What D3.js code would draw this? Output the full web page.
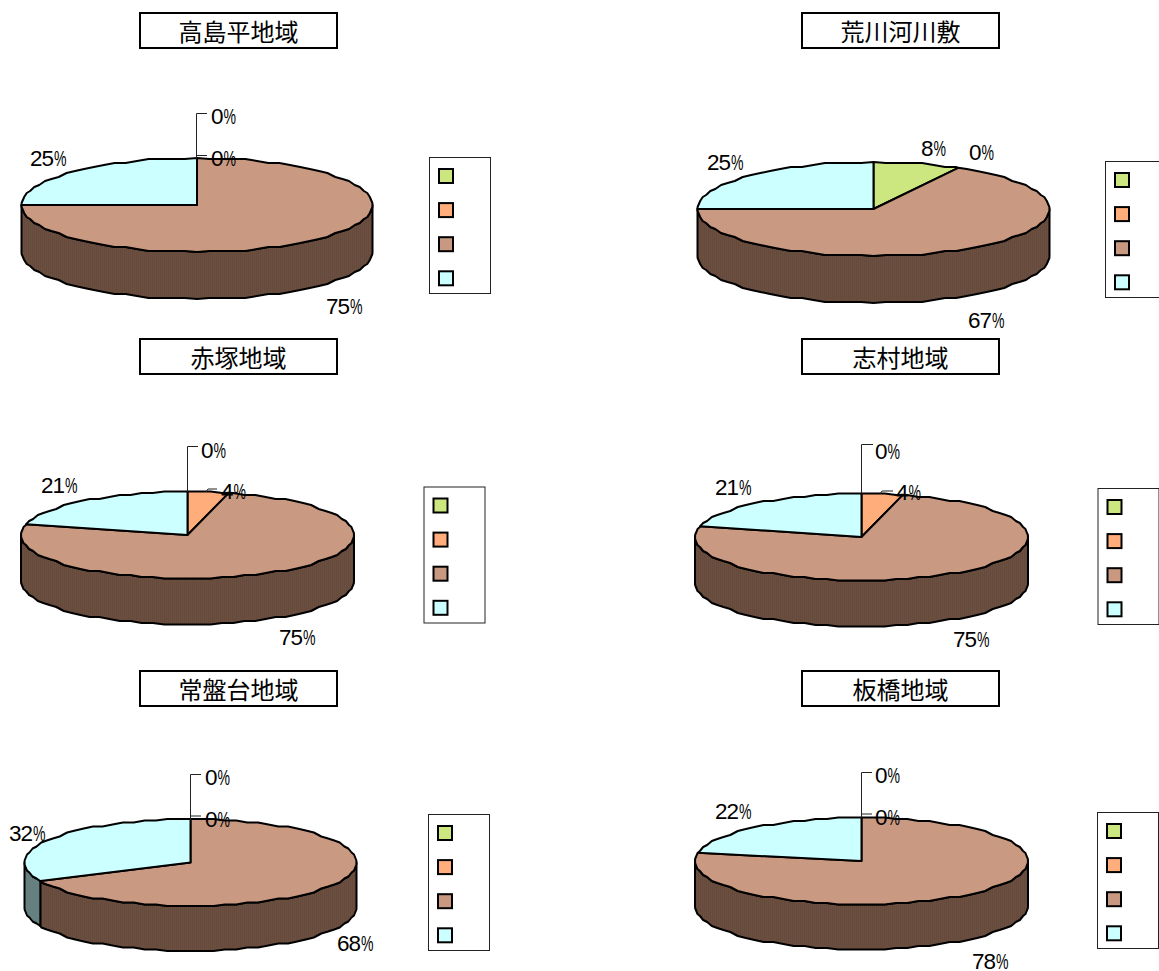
<!DOCTYPE html>
<html><head><meta charset="utf-8">
<script src="https://cdn.jsdelivr.net/npm/d3@7"></script>
<style>html,body{margin:0;padding:0;background:#fff;overflow:hidden}svg{display:block}
.t{font-family:"Noto Sans CJK JP";font-size:24px;fill:#000;text-anchor:middle}
.l{font-family:"Liberation Sans";font-size:22.5px;fill:#000}</style></head><body>
<div id="c"></div>
<script>
// ---- data ----
const regions = ["高島平地域","荒川河川敷","赤塚地域","志村地域","常盤台地域","板橋地域"];
const categoryA = [0,8,0,0,0,0];
const categoryB = [0,0,4,4,0,0];
const categoryC = [75,67,75,75,68,78];
const categoryD = [25,25,21,21,32,22];
// ---- colours ----
const topColors  = ["#cce680","#ffad7a","url(#topBrown)","#ccffff"];
const swatchColors = ["#cce680","#ffad7a","#c99880","#ccffff"];
const sideColors = ["#667340","#80563d","url(#sideBrown)","#668080"];
// ---- layout: one entry per panel ----
const pieLayout = [
 {cx:197,cy:205,rx:175.5,ry:47,depth:47},
 {cx:873.5,cy:209,rx:176,ry:47,depth:47},
 {cx:187.5,cy:535,rx:166.5,ry:43.5,depth:46},
 {cx:861.5,cy:537,rx:166.5,ry:43.5,depth:46},
 {cx:190.5,cy:862.5,rx:166,ry:43.5,depth:45},
 {cx:861.5,cy:861,rx:166.5,ry:43.5,depth:45}];
const titleLayout = [[139,12],[801,12],[139,338],[801,338],[139,670],[801,670]];
const legendLayout = [[429,157],[1105,161],[423.5,486.5],[1097.5,488],[428,814],[1097,812]];
const labelLayout = [
 [[211,116],[211,158],[326,306],[30,158]],
 [[921,148],[969,152],[968,320],[707,162]],
 [[201,450],[221,491],[279,637],[41,485]],
 [[875,451],[896,492],[953,639],[715,487]],
 [[205,777],[205,819],[337,943],[9,833]],
 [[875,775],[875,817],[972,961],[715,811]]];
const leaderLayout = [
 {x:196.5,top:113,bottom:159,end:207,hook:[197,155.5,207,155.5]},
 null,
 {x:187.5,top:446,bottom:492,end:198,hook:[206,492,208,489,217,489]},
 {x:861.5,top:444,bottom:494,end:873,hook:[880,494,882,491,893,491]},
 {x:190.5,top:774,bottom:820,end:201,hook:[191,816,201,816]},
 {x:861.5,top:772,bottom:818,end:872,hook:[862,814,872,814]}];

const svg = d3.select("#c").append("svg").attr("width",1159).attr("height",971);
const defs = svg.append("defs");
const pTop = defs.append("pattern").attr("id","topBrown").attr("width",2).attr("height",2).attr("patternUnits","userSpaceOnUse");
pTop.append("rect").attr("width",2).attr("height",2).attr("fill","#cc9b83");
pTop.append("rect").attr("width",1).attr("height",1).attr("fill","#c8977f");
pTop.append("rect").attr("x",1).attr("y",1).attr("width",1).attr("height",1).attr("fill","#c8977f");
const pSide = defs.append("pattern").attr("id","sideBrown").attr("width",2).attr("height",2).attr("patternUnits","userSpaceOnUse");
pSide.append("rect").attr("width",2).attr("height",2).attr("fill","#6b4f41");
pSide.append("rect").attr("width",1).attr("height",2).attr("fill","#664a3c");

const pie = d3.pie().sort(null).value(d=>d);
const pct = d3.format(".0f");
const STEP = Math.PI/45, SNAP = 2;

function arcPts(p,a0,a1){
  const as=[a0];
  for(let k=Math.ceil(a0/STEP+1e-6);k*STEP<a1-1e-6;k++) as.push(k*STEP);
  as.push(a1);
  const sx=d3.scaleLinear().domain([-1,1]).range([p.cx-p.rx,p.cx+p.rx]);
  const sy=d3.scaleLinear().domain([-1,1]).range([p.cy+p.ry,p.cy-p.ry]);
  return as.map((a,n)=>{
    const x=sx(Math.sin(a)), y=sy(Math.cos(a));
    if(n===0||n===as.length-1) return [x,y];
    const dy=Math.round((y-p.cy)/SNAP)*SNAP;
    return [x, p.cy+Math.max(-p.ry,Math.min(p.ry,dy))];
  });
}
const line=d3.line();

regions.forEach((name,i)=>{
  const p=pieLayout[i], g=svg.append("g");
  const vals=[categoryA[i],categoryB[i],categoryC[i],categoryD[i]];
  const arcs=pie(vals);
  arcs.forEach((a,j)=>{
    const lo=Math.max(a.startAngle,Math.PI/2), hi=Math.min(a.endAngle,3*Math.PI/2);
    if(hi<=lo) return;
    const front=arcPts(p,lo,hi);
    const back=front.map(q=>[q[0],q[1]+p.depth]).reverse();
    g.append("path").attr("d",line(front.concat(back))+"Z")
     .attr("fill",sideColors[j]).attr("stroke","#000").attr("stroke-width",2).attr("stroke-linejoin","round");
  });
  arcs.forEach((a,j)=>{
    if(a.value===0) return;
    const rim=arcPts(p,a.startAngle,a.endAngle);
    g.append("path").attr("d",line([[p.cx,p.cy]].concat(rim))+"Z")
     .attr("fill",topColors[j]).attr("stroke","#000").attr("stroke-width",2).attr("stroke-linejoin","round");
  });
  const L=leaderLayout[i];
  if(L){
    g.append("path").attr("d",line([[L.end,L.top+.5],[L.x,L.top+.5],[L.x,L.bottom]]))
     .attr("fill","none").attr("stroke","#222").attr("stroke-width",1);
    const h=[]; for(let k=0;k<L.hook.length;k+=2) h.push([L.hook[k],L.hook[k+1]]);
    g.append("path").attr("d",line(h)).attr("fill","none").attr("stroke","#222").attr("stroke-width",1);
  }
  vals.forEach((v,j)=>{
    const [x,y]=labelLayout[i][j];
    const t=g.append("text").attr("class","l").attr("x",x).attr("y",y+7.5);
    t.append("tspan").attr("letter-spacing",-1).text(pct(v));
    t.append("tspan").attr("dx",1).attr("textLength",12.5).attr("lengthAdjust","spacingAndGlyphs").text("%");
  });
  const [tx,ty]=titleLayout[i];
  g.append("rect").attr("x",tx+1).attr("y",ty+1).attr("width",197).attr("height",35)
   .attr("fill","#fff").attr("stroke","#000").attr("stroke-width",2);
  g.append("text").attr("class","t").attr("x",tx+99.5).attr("y",ty+29).text(name);
  const [lx,ly]=legendLayout[i];
  g.append("rect").attr("x",lx+.5).attr("y",ly+.5).attr("width",61).attr("height",136)
   .attr("fill","#fff").attr("stroke","#222").attr("stroke-width",1);
  swatchColors.forEach((c,j)=>{
    g.append("rect").attr("x",lx+10).attr("y",ly+12+34.1*j).attr("width",14).attr("height",14)
     .attr("fill",c).attr("stroke","#000").attr("stroke-width",2);
  });
});
</script></body></html>
